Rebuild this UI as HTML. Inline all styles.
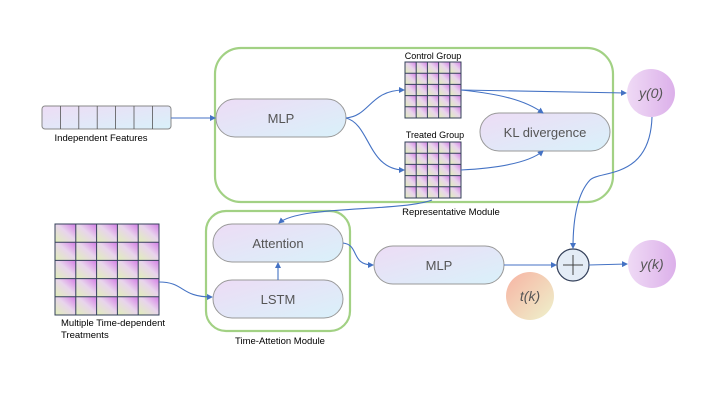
<!DOCTYPE html>
<html><head><meta charset="utf-8"><style>
html,body{margin:0;padding:0;background:#fff;}
svg{display:block;}
text{font-family:"Liberation Sans",sans-serif;}
</style></head><body>
<svg width="720" height="405" viewBox="0 0 720 405" xmlns="http://www.w3.org/2000/svg">
<defs>
<linearGradient id="pill" x1="0" y1="0" x2="1" y2="1">
<stop offset="0" stop-color="#eddcf5"/><stop offset="1" stop-color="#d9f1fa"/></linearGradient>
<linearGradient id="cell" x1="1" y1="0" x2="0" y2="1">
<stop offset="0" stop-color="#d47ce6"/><stop offset="0.45" stop-color="#e8d4ec"/><stop offset="1" stop-color="#e0efb8"/></linearGradient>
<linearGradient id="purp" x1="0" y1="0" x2="1" y2="0">
<stop offset="0" stop-color="#efdaf5"/><stop offset="1" stop-color="#dcb0ea"/></linearGradient>
<linearGradient id="tk" x1="0" y1="0" x2="1" y2="1">
<stop offset="0" stop-color="#f7b3a3"/><stop offset="1" stop-color="#eef2cc"/></linearGradient>
<pattern id="g1" x="405" y="62" width="11.2" height="11.2" patternUnits="userSpaceOnUse">
<rect width="11.2" height="11.2" fill="url(#cell)"/></pattern>
<pattern id="g2" x="405" y="142" width="11.2" height="11.2" patternUnits="userSpaceOnUse">
<rect width="11.2" height="11.2" fill="url(#cell)"/></pattern>
<pattern id="g3" x="55" y="224" width="20.8" height="18.2" patternUnits="userSpaceOnUse">
<rect width="20.8" height="18.2" fill="url(#cell)"/></pattern>
<marker id="ar" markerWidth="6" markerHeight="6" refX="5" refY="3" orient="auto" markerUnits="userSpaceOnUse">
<path d="M0,0 L6,3 L0,6 z" fill="#4472c4"/></marker>
</defs>

<rect x="215" y="48" width="398" height="154" rx="26" fill="none" stroke="#a2d184" stroke-width="2.2"/>
<rect x="206" y="211" width="144" height="120" rx="20" fill="none" stroke="#a2d184" stroke-width="2.2"/>

<rect x="42" y="106" width="129" height="23" rx="3" fill="url(#pill)" stroke="#888" stroke-width="1"/>
<g stroke="#555" stroke-width="0.8">
<line x1="60.4" y1="106" x2="60.4" y2="129"/><line x1="78.8" y1="106" x2="78.8" y2="129"/>
<line x1="97.2" y1="106" x2="97.2" y2="129"/><line x1="115.6" y1="106" x2="115.6" y2="129"/>
<line x1="134" y1="106" x2="134" y2="129"/><line x1="152.4" y1="106" x2="152.4" y2="129"/></g>
<text x="101" y="141" font-size="9.5" text-anchor="middle">Independent Features</text>

<rect x="216" y="99" width="130" height="38" rx="19" fill="url(#pill)" stroke="#999"/>
<text x="281" y="123" font-size="13" fill="#555" text-anchor="middle">MLP</text>
<rect x="480" y="113" width="130" height="38" rx="19" fill="url(#pill)" stroke="#999"/>
<text x="545" y="137" font-size="13" fill="#555" text-anchor="middle">KL divergence</text>
<rect x="213" y="224" width="130" height="38" rx="19" fill="url(#pill)" stroke="#999"/>
<text x="278" y="248" font-size="13" fill="#555" text-anchor="middle">Attention</text>
<rect x="213" y="280" width="130" height="38" rx="19" fill="url(#pill)" stroke="#999"/>
<text x="278" y="304" font-size="13" fill="#555" text-anchor="middle">LSTM</text>
<rect x="374" y="246" width="130" height="38" rx="19" fill="url(#pill)" stroke="#999"/>
<text x="439" y="270" font-size="13" fill="#555" text-anchor="middle">MLP</text>

<g stroke="#34405a" stroke-width="1" fill="none">
<rect x="405" y="62" width="56" height="56" fill="url(#g1)"/>
<path d="M416.2,62v56M427.4,62v56M438.6,62v56M449.8,62v56M405,73.2h56M405,84.4h56M405,95.6h56M405,106.8h56"/>
<rect x="405" y="142" width="56" height="56" fill="url(#g2)"/>
<path d="M416.2,142v56M427.4,142v56M438.6,142v56M449.8,142v56M405,153.2h56M405,164.4h56M405,175.6h56M405,186.8h56"/>
<rect x="55" y="224" width="104" height="91" fill="url(#g3)"/>
<path d="M75.8,224v91M96.6,224v91M117.4,224v91M138.2,224v91M55,242.2h104M55,260.4h104M55,278.6h104M55,296.8h104"/>
</g>
<text x="433" y="59" font-size="9" text-anchor="middle">Control Group</text>
<text x="435" y="138" font-size="9" text-anchor="middle">Treated Group</text>
<text x="451" y="215" font-size="9.5" text-anchor="middle">Representative Module</text>
<text x="61" y="326" font-size="9.5">Multiple Time-dependent</text>
<text x="61" y="338" font-size="9.5">Treatments</text>
<text x="280" y="344" font-size="9.5" text-anchor="middle">Time-Attetion Module</text>

<circle cx="651" cy="93" r="24" fill="url(#purp)"/>
<text x="651" y="98" font-size="14" fill="#555" text-anchor="middle" font-family="Liberation Serif,serif" font-style="italic">y(0)</text>
<circle cx="652" cy="264" r="24" fill="url(#purp)"/>
<text x="652" y="269" font-size="14" fill="#555" text-anchor="middle" font-family="Liberation Serif,serif" font-style="italic">y(k)</text>
<circle cx="530" cy="296" r="24" fill="url(#tk)"/>
<text x="530" y="301" font-size="14" fill="#555" text-anchor="middle" font-family="Liberation Serif,serif" font-style="italic">t(k)</text>
<circle cx="573" cy="265" r="16" fill="#e4ecf6" stroke="#34405a" stroke-width="1.2"/>
<path d="M563,265h20M573,255v20" stroke="#444" stroke-width="1"/>

<g fill="none" stroke="#4472c4" stroke-width="1.1" marker-end="url(#ar)">
<path d="M171,118 L215,118"/>
<path d="M346,118 C370,116 370,90 404,90"/>
<path d="M346,118 C370,124 368,170 404,170"/>
<path d="M461,90 L626,93"/>
<path d="M461,90 C500,94 525,100 543,113"/>
<path d="M461,170 C500,168 530,162 543,151"/>
<path d="M432,200 C400,212 300,205 279,223"/>
<path d="M278,280 L278,263"/>
<path d="M159,282 C185,282 180,297 212,297"/>
<path d="M343,243 C360,245 350,265 373,265"/>
<path d="M504,265 L556,265"/>
<path d="M589,265 L627,264"/>
<path d="M652,117 C650,180 600,170 590,180 C576,195 573,225 573,248"/>
</g>
</svg>
</body></html>
